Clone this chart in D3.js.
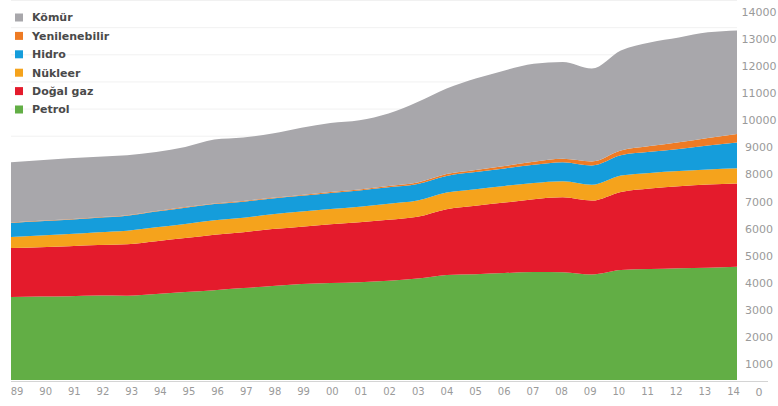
<!DOCTYPE html>
<html>
<head>
<meta charset="utf-8">
<script src="https://cdn.jsdelivr.net/npm/d3@7"></script>
<style>
  html, body { margin: 0; padding: 0; background: #fff; }
  svg { display: block; }
</style>
</head>
<body>
<svg id="chart" width="778" height="406"></svg>
<script>
// World primary energy consumption by source, 1989–2014
const years = d3.range(1989, 2015);
const yearLabels = ["89","90","91","92","93","94","95","96","97","98","99","00","01","02","03","04","05","06","07","08","09","10","11","12","13","14"];

const petrol = [3055,3075,3090,3110,3105,3165,3240,3310,3385,3460,3535,3570,3605,3660,3735,3865,3900,3940,3975,3970,3885,4050,4085,4120,4140,4170];
const dogalGaz = [1805,1820,1840,1860,1895,1950,1990,2045,2060,2100,2115,2170,2210,2245,2280,2430,2520,2595,2685,2760,2725,2880,2970,3020,3060,3070];
const nukleer = [405,425,445,475,500,510,520,530,535,545,555,560,570,590,595,610,610,615,595,590,580,600,575,560,555,560];
const hidro = [515,525,530,530,550,580,600,595,590,580,580,590,600,605,610,615,630,645,675,705,715,750,775,810,880,950];
const yenilenebilir = [20,20,21,22,23,24,25,26,28,29,32,36,38,44,55,65,75,92,110,128,148,178,213,250,283,315];
const komur = [2220,2230,2245,2230,2205,2170,2210,2350,2335,2365,2480,2545,2545,2670,2965,3150,3370,3520,3615,3560,3420,3685,3820,3860,3890,3815];

const yTicks = [0,1000,2000,3000,4000,5000,6000,7000,8000,9000,10000,11000,12000,13000,14000];

// stacking order, bottom to top
const keys = ["Petrol","Doğal gaz","Nükleer","Hidro","Yenilenebilir","Kömür"];
const seriesValues = [petrol, dogalGaz, nukleer, hidro, yenilenebilir, komur];
const colors = ["#62ae45","#e41b2c","#f5a31c","#159ddb","#ee7b24","#a8a7ab"];
// legend lists the layers top-down
const legendKeys = ["Kömür","Yenilenebilir","Hidro","Nükleer","Doğal gaz","Petrol"];

const table = years.map((yr, i) => {
  const row = { year: yr };
  keys.forEach((k, j) => { row[k] = seriesValues[j][i]; });
  return row;
});

const svg = d3.select("#chart");

const x = d3.scaleLinear().domain([1989, 2014]).range([11, 737]);
const y = d3.scaleLinear().domain([0, 14000]).range([380, 0]);
const xLabel = d3.scalePoint().domain(yearLabels).range([16.5, 733]);
const color = d3.scaleOrdinal().domain(keys).range(colors);

// faint horizontal gridlines
svg.append("g")
  .selectAll("line")
  .data(yTicks.filter(v => v > 0))
  .join("line")
  .attr("x1", 11).attr("x2", 737)
  .attr("y1", d => y(d) + 0.5).attr("y2", d => y(d) + 0.5)
  .attr("stroke", "#f1f1f1")
  .attr("stroke-width", 1);

const stack = d3.stack().keys(keys);
const layers = stack(table);

const area = d3.area()
  .x(d => x(d.data.year))
  .y0(d => y(d[0]))
  .y1(d => y(d[1]))
  .curve(d3.curveMonotoneX);

svg.append("g")
  .selectAll("path")
  .data(layers)
  .join("path")
  .attr("d", area)
  .attr("fill", d => color(d.key));

// baseline
svg.append("line")
  .attr("x1", 11).attr("x2", 768)
  .attr("y1", y(0) + 1.5).attr("y2", y(0) + 1.5)
  .attr("stroke", "#d4d4d4")
  .attr("stroke-width", 1);

// right-hand value labels, set just below their gridline
const yAxis = d3.axisRight(y).tickValues(yTicks).tickSize(0).tickPadding(0).tickFormat(d3.format("d"));
const gy = svg.append("g")
  .attr("transform", "translate(759,11.5)")
  .call(yAxis);
gy.select(".domain").remove();
gy.selectAll("text")
  .attr("text-anchor", "middle")
  .attr("x", 0)
  .attr("fill", "#9a9a9a")
  .style("font-family", "'DejaVu Sans', sans-serif")
  .style("font-size", "11px");

// year labels
const xAxis = d3.axisBottom(xLabel).tickSize(0).tickPadding(0);
const gx = svg.append("g")
  .attr("transform", "translate(0,388)")
  .call(xAxis);
gx.select(".domain").remove();
gx.selectAll("text")
  .attr("fill", "#9a9a9a")
  .style("font-family", "'DejaVu Sans', sans-serif")
  .style("font-size", "10px");

// legend
const legend = svg.append("g").attr("transform", "translate(15,17.5)");
const item = legend.selectAll("g")
  .data(legendKeys)
  .join("g")
  .attr("transform", (d, i) => `translate(0,${i * 18.4})`);
item.append("rect")
  .attr("x", 0).attr("y", -4)
  .attr("width", 8).attr("height", 8)
  .attr("fill", d => color(d));
item.append("text")
  .attr("x", 17).attr("y", 0)
  .attr("dy", "0.35em")
  .attr("fill", "#4a4a4a")
  .style("font-family", "'DejaVu Sans', sans-serif")
  .style("font-weight", "bold")
  .style("font-size", "11px")
  .text(d => d);
</script>
</body>
</html>
